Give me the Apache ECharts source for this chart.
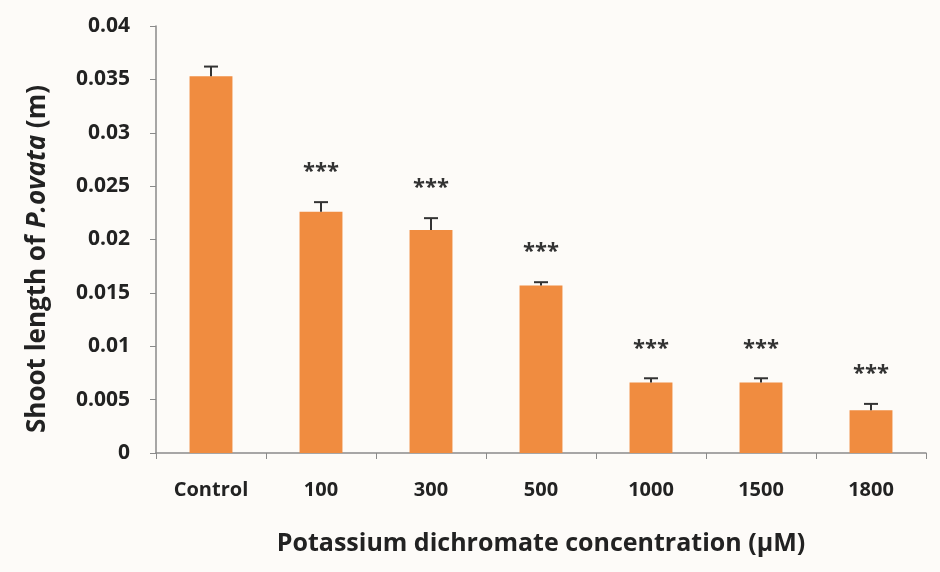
<!DOCTYPE html>
<html>
<head>
<meta charset="utf-8">
<script src="https://cdn.jsdelivr.net/npm/echarts@6/dist/echarts.min.js"></script>
<style>
  html, body { margin: 0; padding: 0; background: #fdfbf8; }
  #chart { width: 940px; height: 572px; }
</style>
</head>
<body>
<div id="chart"></div>
<script>
// concentrations on the x axis
const categories = ["Control", "100", "300", "500", "1000", "1500", "1800"];
// mean shoot length (m)
const shootLength = [0.0353, 0.0226, 0.0209, 0.0157, 0.0066, 0.0066, 0.0040];
// standard error
const errors = [0.0009, 0.0009, 0.0011, 0.0003, 0.0004, 0.0004, 0.0006];
// significance marks
const marks = ["", "***", "***", "***", "***", "***", "***"];

const font = "Open Sans, Liberation Sans, sans-serif";
const chart = echarts.init(document.getElementById("chart"));

chart.setOption({
  backgroundColor: "#fdfbf8",
  animation: false,
  grid: { left: 156, right: 14, top: 26, bottom: 119 },
  // y axis title drawn separately so it can sit a little below the grid centre like the original
  graphic: [{
    type: "text",
    x: 38,
    y: 259,
    rotation: Math.PI / 2,
    style: {
      text: "Shoot length of {i|P.ovata} (m)",
      align: "center",
      verticalAlign: "middle",
      font: "bold 26px " + font,
      fill: "#222",
      rich: { i: { fontFamily: font, fontWeight: "bold", fontStyle: "italic", fontSize: 26, fill: "#222" } }
    }
  }],
  xAxis: {
    type: "category",
    data: categories,
    name: "Potassium dichromate concentration (\u00b5M)",
    nameLocation: "middle",
    nameGap: 78,
    nameTextStyle: { fontFamily: font, fontWeight: "bold", fontSize: 25, color: "#222" },
    axisLine: { lineStyle: { color: "#8a8a8a", width: 1.5 } },
    axisTick: { show: true, length: 6, lineStyle: { color: "#8a8a8a" } },
    axisLabel: { fontFamily: font, fontWeight: "bold", fontSize: 20, color: "#222", margin: 27 }
  },
  yAxis: {
    type: "value",
    min: 0,
    max: 0.04,
    interval: 0.005,
    splitLine: { show: false },
    axisLine: { show: true, lineStyle: { color: "#8a8a8a", width: 1.5 } },
    axisTick: { show: true, length: 6, lineStyle: { color: "#8a8a8a" } },
    axisLabel: { fontFamily: font, fontWeight: "bold", fontSize: 21, color: "#222", margin: 26 }
  },
  series: [
    {
      type: "bar",
      data: shootLength,
      barWidth: "39%",
      itemStyle: { color: "#f08c40" }
    },
    {
      type: "custom",
      data: shootLength.map((v, i) => [i, v, v + errors[i], marks[i]]),
      z: 10,
      renderItem: function (params, api) {
        const x = api.value(0);
        const base = api.coord([x, api.value(1)]);
        const top = api.coord([x, api.value(2)]);
        const half = 7;
        const children = [
          { type: "line", shape: { x1: base[0], y1: base[1], x2: top[0], y2: top[1] },
            style: { stroke: "#333", lineWidth: 2 } },
          { type: "line", shape: { x1: top[0] - half, y1: top[1], x2: top[0] + half, y2: top[1] },
            style: { stroke: "#333", lineWidth: 2 } }
        ];
        const mark = api.value(3);
        if (mark) {
          children.push({
            type: "text",
            style: {
              text: mark, x: top[0], y: top[1] - 30,
              align: "center", verticalAlign: "middle",
              font: "bold 22px " + font, fill: "#333"
            }
          });
        }
        return { type: "group", children: children };
      }
    }
  ]
});
</script>
</body>
</html>
